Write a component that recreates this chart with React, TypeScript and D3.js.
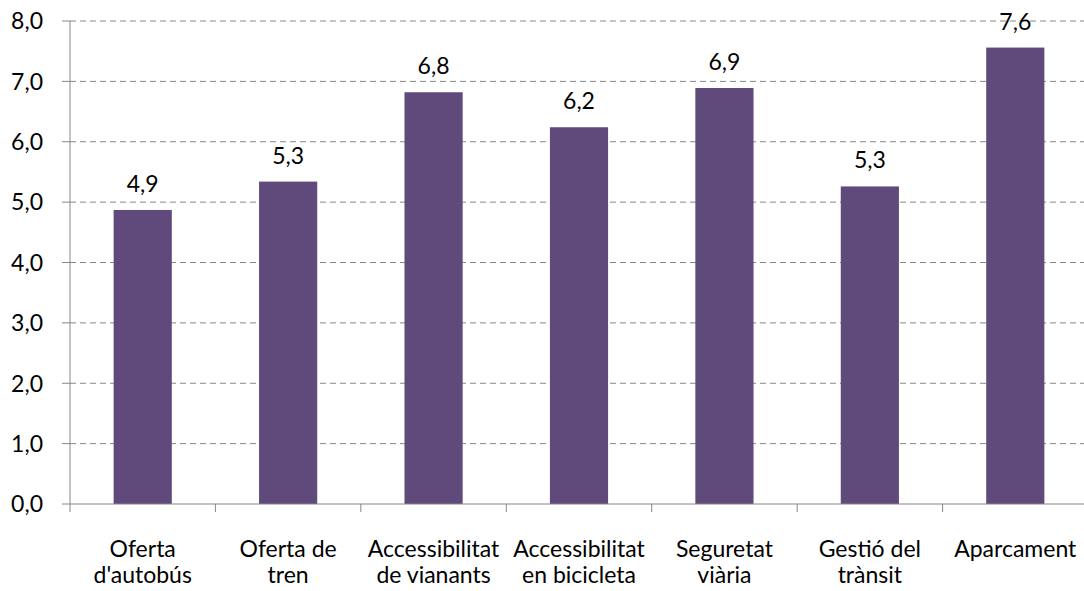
import React from "react";
import * as d3 from "d3";

// Categories split in two label lines (as wrapped in the original)
const categories = [
  ["Oferta", "d'autobús"],
  ["Oferta de", "tren"],
  ["Accessibilitat", "de vianants"],
  ["Accessibilitat", "en bicicleta"],
  ["Seguretat", "viària"],
  ["Gestió del", "trànsit"],
  ["Aparcament", ""],
];
const values = [4.87, 5.34, 6.82, 6.24, 6.89, 5.26, 7.56];
const yTicks = [0, 1, 2, 3, 4, 5, 6, 7, 8];

const W = 1084;
const H = 591;
const margin = { top: 21, right: -4, bottom: 87, left: 70 };
const FONT = "Lato, 'Open Sans', sans-serif";
const FS = 23;

const fmt = (v: number) => v.toFixed(1).replace(".", ",");

export default function App() {
  const innerW = W - margin.left - margin.right;
  const innerH = H - margin.top - margin.bottom;

  const x = d3
    .scaleBand<number>()
    .domain(d3.range(categories.length))
    .range([0, innerW])
    .paddingInner(0.6)
    .paddingOuter(0.3);
  const step = x.step();
  const y = d3.scaleLinear().domain([0, 8]).range([innerH, 0]);

  return (
    <svg width={W} height={H} style={{ display: "block", position: "absolute", left: 0, top: 0 }}>
      <rect width={W} height={H} fill="#fff" />
      <g transform={`translate(${margin.left},${margin.top})`} fontFamily={FONT}>
        {/* gridlines */}
        {yTicks.slice(1).map((t) => (
          <line
            key={t}
            x1={0}
            x2={innerW}
            y1={y(t)}
            y2={y(t)}
            stroke="#868686"
            strokeWidth={1}
            strokeDasharray="6,4"
          />
        ))}
        {/* bars */}
        {values.map((v, i) => (
          <rect key={i} x={x(i)} y={y(v)} width={x.bandwidth()} height={innerH - y(v)} fill="#604A7B" />
        ))}
        {/* value labels */}
        {values.map((v, i) => (
          <text
            key={i}
            x={(x(i) ?? 0) + x.bandwidth() / 2}
            y={y(v) - 18}
            textAnchor="middle"
            fontSize={FS}
            fill="#000"
          >
            {fmt(v)}
          </text>
        ))}
        {/* y axis */}
        <line x1={0} x2={0} y1={0} y2={innerH} stroke="#868686" />
        {yTicks.map((t) => (
          <g key={t}>
            <line x1={-8} x2={0} y1={y(t)} y2={y(t)} stroke="#868686" />
            <text x={-27} y={y(t)} dy="0.36em" textAnchor="end" fontSize={FS} fill="#000">
              {fmt(t)}
            </text>
          </g>
        ))}
        {/* x axis */}
        <line x1={0} x2={innerW} y1={innerH} y2={innerH} stroke="#868686" />
        {d3.range(categories.length + 1).map((i) => (
          <line key={i} x1={i * step} x2={i * step} y1={innerH} y2={innerH + 8} stroke="#868686" />
        ))}
        {categories.map((lines, i) => (
          <text
            key={i}
            x={(x(i) ?? 0) + x.bandwidth() / 2}
            y={innerH + 53}
            textAnchor="middle"
            fontSize={FS}
            fill="#000"
          >
            {lines.map((l, k) => (
              <tspan key={k} x={(x(i) ?? 0) + x.bandwidth() / 2} dy={k === 0 ? 0 : 26}>
                {l}
              </tspan>
            ))}
          </text>
        ))}
      </g>
    </svg>
  );
}
